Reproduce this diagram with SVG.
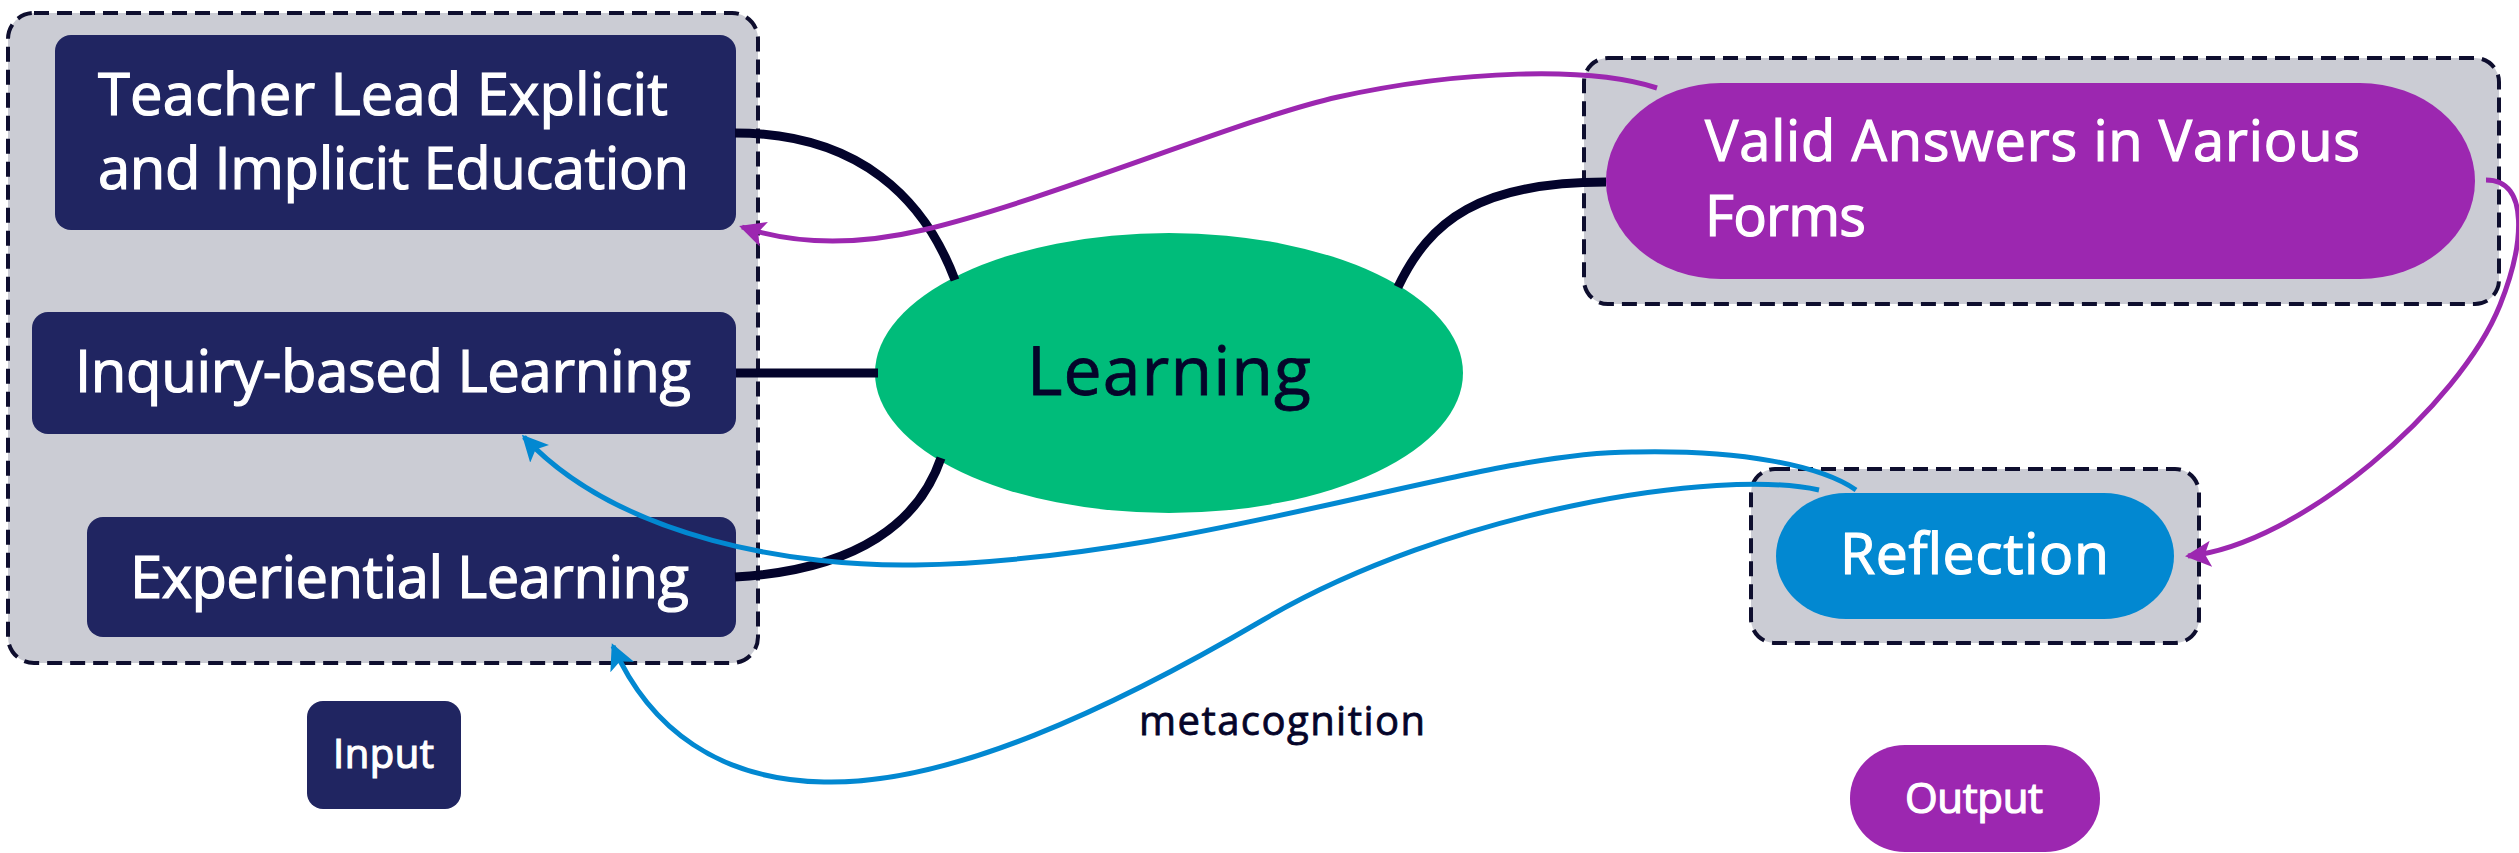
<svg xmlns="http://www.w3.org/2000/svg" width="2519" height="853" viewBox="0 0 2519 853">
<style>
  .grp { fill: #CBCCD4; stroke: #0E0E2E; stroke-width: 4; stroke-dasharray: 15 8; }
  .navy { fill: #202561; }
  .wt { fill: #FFFFFF; stroke: #FFFFFF; stroke-width: 1.2; font-family: "Open Sans", "Noto Sans", sans-serif; }
  .dk { fill: #05052A; stroke: #05052A; stroke-width: 0.8; font-family: "Open Sans", "Noto Sans", sans-serif; }
  .link { fill: none; stroke: #03032B; stroke-width: 9; }
  .purple { fill: none; stroke: #9C27B0; stroke-width: 5; }
  .blue { fill: none; stroke: #0288D1; stroke-width: 5; }
</style>
<defs>
  <marker id="arrP" viewBox="0 0 26 26" refX="23" refY="13" markerWidth="26" markerHeight="26" markerUnits="userSpaceOnUse" orient="auto">
    <path d="M0,0 L26,13 L0,26 L6,13 z" fill="#9C27B0"/>
  </marker>
  <marker id="arrB" viewBox="0 0 26 26" refX="23" refY="13" markerWidth="26" markerHeight="26" markerUnits="userSpaceOnUse" orient="auto">
    <path d="M0,0 L26,13 L0,26 L6,13 z" fill="#0288D1"/>
  </marker>
</defs>
<rect width="2519" height="853" fill="#FFFFFF"/>

<g id="group-input">
  <rect class="grp" x="8" y="13" width="750" height="650" rx="26"/>
</g>
<g id="group-valid">
  <rect class="grp" x="1584" y="58" width="915" height="246" rx="24"/>
</g>
<g id="group-reflection">
  <rect class="grp" x="1751" y="469" width="448" height="174" rx="24"/>
</g>

<g id="node-teacher">
  <rect class="navy" x="55" y="35" width="681" height="195" rx="16"/>
  <text class="wt" x="98" y="115" font-size="58" textLength="570">Teacher Lead Explicit</text>
  <text class="wt" x="98" y="189" font-size="58" textLength="591">and Implicit Education</text>
</g>
<g id="node-inquiry">
  <rect class="navy" x="32" y="312" width="704" height="122" rx="16"/>
  <text class="wt" x="75" y="392" font-size="58" textLength="616">Inquiry-based Learning</text>
</g>
<g id="node-experiential">
  <rect class="navy" x="87" y="517" width="649" height="120" rx="16"/>
  <text class="wt" x="130" y="598" font-size="58" textLength="559">Experiential Learning</text>
</g>
<g id="node-learning">
  <ellipse cx="1169" cy="373" rx="294" ry="140" fill="#00BC7A"/>
  <text class="dk" x="1027" y="395" font-size="68" textLength="284">Learning</text>
</g>
<g id="node-valid">
  <rect x="1606" y="83" width="869" height="196" rx="115" ry="98" fill="#9C27B0"/>
  <text class="wt" x="1705" y="161" font-size="56" textLength="655">Valid Answers in Various</text>
  <text class="wt" x="1705" y="236" font-size="56" textLength="161">Forms</text>
</g>
<g id="node-reflection">
  <rect x="1776" y="493" width="398" height="126" rx="70" ry="63" fill="#0288D1"/>
  <text class="wt" x="1840" y="574" font-size="57" textLength="269">Reflection</text>
</g>
<g id="legend-input">
  <rect class="navy" x="307" y="701" width="154" height="108" rx="16"/>
  <text class="wt" x="333" y="768" font-size="40" textLength="101">Input</text>
</g>
<g id="legend-output">
  <rect x="1850" y="745" width="250" height="107" rx="55" ry="53" fill="#9C27B0"/>
  <text class="wt" x="1905" y="813" font-size="42" textLength="138">Output</text>
</g>

<g id="connectors">
  <path class="link" d="M735,133 C860,133 925,200 955,280"/>
  <path class="link" d="M736,373 L878,373"/>
  <path class="link" d="M735,577 C860,570 920,520 941,458"/>
  <path class="link" d="M1606,182 C1480,182 1430,220 1398,287"/>
  <path class="purple" marker-end="url(#arrP)" d="M1657,88 C1590,66 1460,70 1338,97 C1240,119 1050,200 923,230 C850,247 790,243 742,227"/>
  <path class="purple" marker-end="url(#arrP)" d="M2486,180 C2530,180 2524,245 2500,305 C2460,405 2300,545 2188,556"/>
  <path class="blue" marker-end="url(#arrB)" d="M1856,490 C1820,465 1740,450 1636,452 C1480,450 1200,560 915,565 C800,567 620,540 524,437"/>
  <path class="blue" marker-end="url(#arrB)" d="M1819,490 C1720,468 1450,510 1263,620 C1113,708 950,785 824,782 C720,780 650,730 613,646"/>
  <text class="dk" x="1139" y="735" font-size="40" textLength="286">metacognition</text>
</g>
</svg>
